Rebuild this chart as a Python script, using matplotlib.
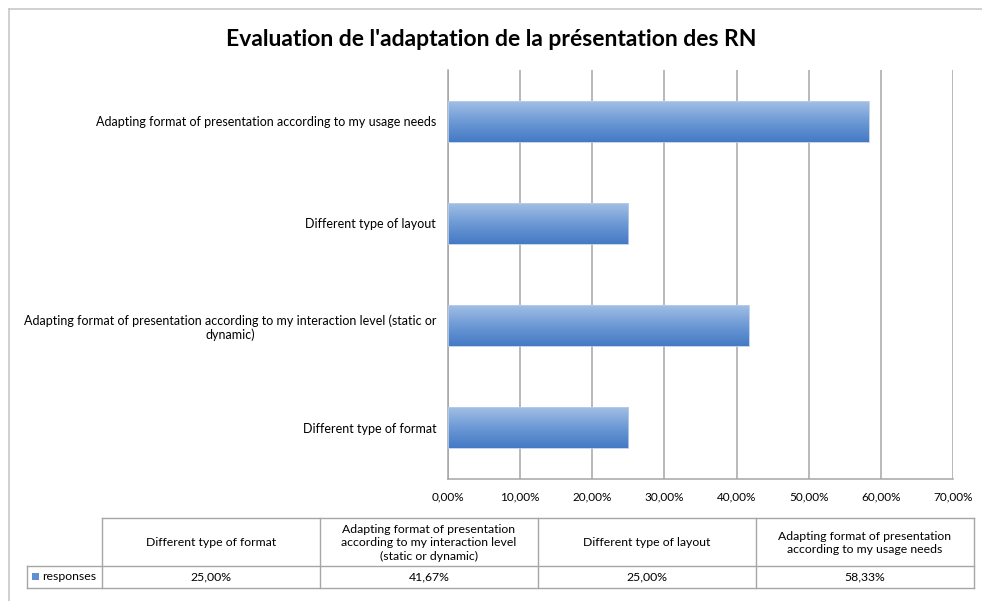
import numpy as np
import matplotlib
matplotlib.use("Agg")
import matplotlib.pyplot as plt
from matplotlib.colors import LinearSegmentedColormap
from matplotlib.lines import Line2D
from matplotlib.patches import Rectangle

# Survey data
categories = [
    "Different type of format",
    "Adapting format of presentation according to my interaction level (static or dynamic)",
    "Different type of layout",
    "Adapting format of presentation according to my usage needs",
]
axis_labels = [
    "Different type of format",
    "Adapting format of presentation according to my interaction level (static or\ndynamic)",
    "Different type of layout",
    "Adapting format of presentation according to my usage needs",
]
table_headers = [
    "Different type of format",
    "Adapting format of presentation\naccording to my interaction level\n(static or dynamic)",
    "Different type of layout",
    "Adapting format of presentation\naccording to my usage needs",
]
values = [25.00, 41.67, 25.00, 58.33]
series_name = "responses"
x_ticks = [0, 10, 20, 30, 40, 50, 60, 70]
title = "Evaluation de l'adaptation de la présentation des RN"

plt.rcParams['font.family'] = ['Lato', 'DejaVu Sans']

W, H = 982, 601
fig = plt.figure(figsize=(W / 100, H / 100), dpi=100)
fig.patch.set_facecolor("white")


def fx(px):
    return px / W


def fy(py):
    return 1 - py / H


# outer chart frame
frame_col = "#c8c8c8"
fig.add_artist(Line2D([fx(8.5), fx(8.5)], [fy(8.5), 0], transform=fig.transFigure, color=frame_col, lw=1.2))
fig.add_artist(Line2D([fx(8.5), 1], [fy(8.5), fy(8.5)], transform=fig.transFigure, color=frame_col, lw=1.2))

fig.text(0.5, fy(40), title, ha="center", va="center", fontsize=16.5, fontweight="bold", color="#000000")

ax = fig.add_axes([fx(448), fy(479), fx(953) - fx(448), fy(70) - fy(479)])
ypos = np.arange(len(values))
bars = ax.barh(ypos, values, height=0.4, color="none", edgecolor="none", zorder=3)

grad_cmap = LinearSegmentedColormap.from_list("barfill", ["#4479c4", "#6d99d5", "#a2bfe6"])
grad = np.linspace(0, 1, 256).reshape(-1, 1)
for b in bars:
    x0, y0 = b.get_x(), b.get_y()
    w, h = b.get_width(), b.get_height()
    im = ax.imshow(grad, cmap=grad_cmap, aspect="auto", origin="lower",
                   extent=[x0, x0 + w, y0, y0 + h], zorder=3, interpolation="bilinear")
    im.set_clip_path(b)
    ax.add_patch(Rectangle((x0, y0), w, h, fill=False, edgecolor="#b9cde9", lw=0.6, zorder=4))

ax.set_xlim(0, 70)
ax.set_ylim(-0.5, len(values) - 0.5)
ax.set_xticks(x_ticks)
ax.set_xticklabels([f"{t:.2f}%".replace(".", ",") for t in x_ticks], fontsize=8.5)
ax.set_yticks(ypos)
ax.set_yticklabels(axis_labels, fontsize=9, multialignment="center", linespacing=1.2)
ax.grid(axis="x", color="#a6a6a6", lw=1.1, zorder=0)
ax.set_axisbelow(True)
for side in ["top", "right"]:
    ax.spines[side].set_visible(False)
for side in ["left", "bottom"]:
    ax.spines[side].set_color("#a6a6a6")
    ax.spines[side].set_linewidth(1.1)
ax.tick_params(axis="y", length=0, pad=8.5)
ax.tick_params(axis="x", length=0, pad=9)

# data table below the chart
tcol = "#a6a6a6"
col_edges = [27, 102, 320, 538, 756, 974]
row_edges = [518, 566, 588]


def hline(y, x0, x1):
    fig.add_artist(Line2D([fx(x0), fx(x1)], [fy(y), fy(y)], transform=fig.transFigure, color=tcol, lw=1.0))


def vline(x, y0, y1):
    fig.add_artist(Line2D([fx(x), fx(x)], [fy(y0), fy(y1)], transform=fig.transFigure, color=tcol, lw=1.0))


hline(row_edges[0], col_edges[1], col_edges[-1])
hline(row_edges[1], col_edges[0], col_edges[-1])
hline(row_edges[2], col_edges[0], col_edges[-1])
vline(col_edges[0], row_edges[1], row_edges[2])
for x in col_edges[1:]:
    vline(x, row_edges[0], row_edges[2])

for i, hdr in enumerate(table_headers):
    cx = (col_edges[i + 1] + col_edges[i + 2]) / 2
    fig.text(fx(cx), fy((row_edges[0] + row_edges[1]) / 2 + 1), hdr, ha="center", va="center",
             fontsize=8.8, linespacing=1.25)
    fig.text(fx(cx), fy((row_edges[1] + row_edges[2]) / 2), f"{values[i]:.2f}%".replace(".", ","),
             ha="center", va="center", fontsize=8.8)

fig.add_artist(Rectangle((fx(32), fy(580)), fx(7), fy(573) - fy(580), transform=fig.transFigure,
                         facecolor="#5f8fd0", edgecolor="none"))
fig.text(fx(42), fy(577), series_name, ha="left", va="center", fontsize=8.8)

fig.savefig("out.png", dpi=100, facecolor="white")
